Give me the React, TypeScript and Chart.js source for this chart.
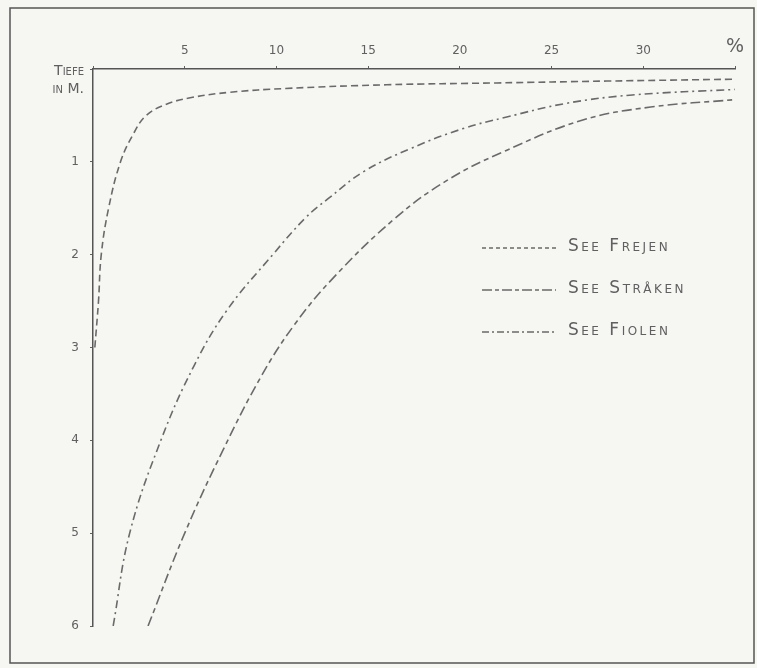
import React, { useEffect, useRef } from "react";
import { Chart, registerables } from "chart.js";

Chart.register(...registerables);

// Percent (x) and depth in metres (y)
const xTicks = [5, 10, 15, 20, 25, 30];
const yTicks = [1, 2, 3, 4, 5, 6];

const frejenPct = [0.1, 0.3, 0.45, 0.85, 1.5, 2.2, 2.9, 4.0, 5.3, 7.5, 10.5, 16, 22, 28, 35];
const frejenDepth = [3.0, 2.5, 2.0, 1.5, 1.0, 0.7, 0.5, 0.38, 0.31, 0.25, 0.21, 0.17, 0.15, 0.13, 0.11];

const fiolenPct = [1.1, 2.0, 3.7, 5.5, 7.3, 9.8, 11.6, 12.8, 14.8, 17.4, 20.2, 22.5, 25.8, 29.4, 35];
const fiolenDepth = [6.0, 5.0, 4.0, 3.2, 2.6, 2.0, 1.6, 1.4, 1.1, 0.85, 0.64, 0.52, 0.37, 0.28, 0.22];

const strakenPct = [3.0, 5.0, 7.1, 9.2, 11.0, 13.1, 16.4, 19.3, 22.5, 26.7, 30.4, 35];
const strakenDepth = [6.0, 5.0, 4.1, 3.3, 2.75, 2.25, 1.62, 1.2, 0.88, 0.55, 0.41, 0.33];

const legendLabels = ["See Frejen", "See Stråken", "See Fiolen"];
const axisTitle = ["Tiefe", "in M."];

const INK = "#606060";
const LINE = "#6a6a6a";

const toPoints = (xs: number[], ys: number[]) => xs.map((x, i) => ({ x, y: ys[i] }));

const decor = {
  id: "decor",
  beforeDraw(chart: any) {
    const ctx = chart.ctx;
    ctx.save();
    ctx.fillStyle = "#f6f6f3";
    ctx.fillRect(0, 0, chart.width, chart.height);
    ctx.restore();
  },
  afterDraw(chart: any) {
    const ctx = chart.ctx;
    const area = chart.chartArea;
    ctx.save();
    // outer frame
    ctx.strokeStyle = "#555";
    ctx.lineWidth = 1.5;
    ctx.strokeRect(10, 8, 744, 655);

    // axis title
    ctx.fillStyle = INK;
    ctx.font = "small-caps 14px 'DejaVu Sans'";
    ctx.textAlign = "right";
    ctx.textBaseline = "middle";
    ctx.fillText(axisTitle[0], area.left - 9, area.top + 2);
    ctx.fillText(axisTitle[1], area.left - 9, area.top + 20);

    // legend
    const ds = chart.data.datasets;
    const rowY = [248, 290, 332];
    ds.forEach((d: any, i: number) => {
      const y = rowY[i];
      ctx.strokeStyle = d.borderColor;
      ctx.lineWidth = d.borderWidth;
      ctx.setLineDash(d.legendDash);
      ctx.beginPath();
      ctx.moveTo(482, y);
      ctx.lineTo(556, y);
      ctx.stroke();
      ctx.setLineDash([]);
      ctx.fillStyle = INK;
      ctx.font = "small-caps 17px 'DejaVu Sans'";
      (ctx as any).letterSpacing = "2.5px";
      ctx.textAlign = "left";
      ctx.textBaseline = "middle";
      ctx.fillText(d.label, 568, y - 1);
      (ctx as any).letterSpacing = "0px";
    });
    ctx.restore();
  },
};

export default function App() {
  const ref = useRef<HTMLCanvasElement>(null);
  useEffect(() => {
    if (!ref.current) return;
    const common = {
      borderColor: LINE,
      borderWidth: 1.6,
      pointRadius: 0,
      tension: 0.4,
      fill: false,
    };
    const chart = new Chart(ref.current, {
      type: "line",
      data: {
        datasets: [
          {
            ...common,
            label: legendLabels[0],
            data: toPoints(frejenPct, frejenDepth),
            borderDash: [7, 4],
            legendDash: [4, 3],
          } as any,
          {
            ...common,
            label: legendLabels[1],
            data: toPoints(strakenPct, strakenDepth),
            borderDash: [10, 4, 5, 4],
            legendDash: [10, 3, 4, 3],
          } as any,
          {
            ...common,
            label: legendLabels[2],
            data: toPoints(fiolenPct, fiolenDepth),
            borderDash: [8, 4, 2, 4],
            legendDash: [7, 3, 2, 3],
          } as any,
        ],
      },
      options: {
        animation: false,
        responsive: false,
        layout: { padding: { left: 0, top: 0, right: 22, bottom: 42 } },
        plugins: { legend: { display: false }, tooltip: { enabled: false } },
        scales: {
          x: {
            type: "linear",
            position: "top",
            min: 0,
            max: 35,
            afterFit: (s: any) => {
              s.height = 69;
            },
            afterBuildTicks: (s: any) => {
              s.ticks = [0, ...xTicks, 35].map((v) => ({ value: v }));
            },
            ticks: {
              color: INK,
              padding: 8,
              maxRotation: 0,
              autoSkip: false,
              font: (c: any) =>
                c.tick && c.tick.value === 35
                  ? { family: "'DejaVu Sans'", size: 19 }
                  : { family: "'DejaVu Sans'", size: 12 },
              callback: (v: any) => (v === 0 ? "" : v === 35 ? "%" : String(v)),
            },
            grid: {
              drawOnChartArea: false,
              drawTicks: true,
              tickLength: 3,
              color: INK,
            },
            border: { display: true, color: "#555", width: 1.5 },
          },
          y: {
            type: "linear",
            reverse: true,
            min: 0,
            max: 6,
            afterFit: (s: any) => {
              s.width = 93;
            },
            afterBuildTicks: (s: any) => {
              s.ticks = [0, ...yTicks].map((v) => ({ value: v }));
            },
            ticks: {
              color: INK,
              padding: 11,
              autoSkip: false,
              font: { family: "'DejaVu Sans'", size: 12 },
              callback: (v: any) => (v === 0 ? "" : String(v)),
            },
            grid: {
              drawOnChartArea: false,
              drawTicks: true,
              tickLength: 3,
              color: INK,
            },
            border: { display: true, color: "#555", width: 1.5 },
          },
        },
      },
      plugins: [decor],
    });
    return () => chart.destroy();
  }, []);

  return (
    <div style={{ position: "fixed", left: 0, top: 0, width: 757, height: 668 }}>
      <canvas ref={ref} width={757} height={668} style={{ width: 757, height: 668 }} />
    </div>
  );
}
